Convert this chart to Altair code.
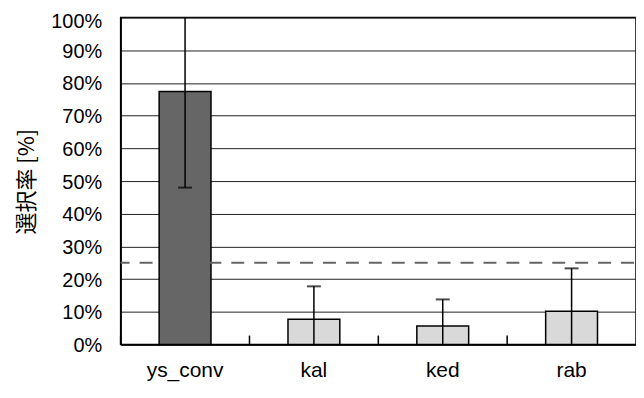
import altair as alt
import pandas as pd

categories = ["ys_conv", "kal", "ked", "rab"]
values = [77.4, 7.7, 5.7, 10.2]
errors = [29.4, 10.1, 8.1, 13.1]
colors = ["#666666", "#d9d9d9", "#d9d9d9", "#d9d9d9"]
chance_level = [25]
y_ticks = [0, 10, 20, 30, 40, 50, 60, 70, 80, 90, 100]

rows = []
for c, v, e, col in zip(categories, values, errors, colors):
    rows.append({"cat": c, "v": v, "lo": max(0, v - e), "hi": min(100, v + e),
                 "col": col, "lo_cap": v - e >= 0, "hi_cap": v + e <= 100})
df = pd.DataFrame(rows)

caps = []
for r in rows:
    if r["lo_cap"]:
        caps.append({"cat": r["cat"], "y": r["lo"]})
    if r["hi_cap"]:
        caps.append({"cat": r["cat"], "y": r["hi"]})
cap_df = pd.DataFrame(caps)

FONT = "Liberation Sans"
xscale = alt.Scale(domain=categories, paddingInner=0, paddingOuter=0)
yscale = alt.Scale(domain=[0, 100], nice=False)

xaxis = alt.Axis(title=None, labelAngle=0, ticks=False, labelPadding=15,
                 labelFontSize=21, labelFont=FONT, labelColor="#000",
                 domainColor="#000", domainWidth=1.5, grid=False)
yaxis = alt.Axis(title="選択率 [%]", values=y_ticks, ticks=False,
                 labelExpr="datum.value + '%'", labelPadding=19,
                 labelOffset={"condition": {"test": "datum.value == 100", "value": 4}, "value": 1},
                 labelFontSize=20, labelFont=FONT, labelColor="#000",
                 titleFont="Noto Sans CJK JP", titleFontSize=22,
                 titleFontWeight="normal", titleColor="#000", titlePadding=12,
                 domainColor="#000", domainWidth=1.5,
                 grid=True, gridColor="#222222", gridWidth=1)

def X(**kw):
    return alt.X("cat:N", scale=xscale, sort=categories, axis=xaxis, title=None, **kw)

def Y(field):
    return alt.Y(field, scale=yscale, axis=yaxis, title="選択率 [%]")

bars = alt.Chart(df).mark_bar(size=52, stroke="#000", strokeWidth=1.5).encode(
    x=X(), y=Y("v:Q"), color=alt.Color("col:N", scale=None))

err = alt.Chart(df).mark_rule(color="#000", strokeWidth=1.5).encode(
    x=X(), y=Y("lo:Q"), y2="hi:Q")

capm = alt.Chart(cap_df).mark_tick(color="#000", size=14, thickness=2, orient="horizontal").encode(
    x=X(), y=Y("y:Q"))

xticks = alt.Chart(pd.DataFrame({"cat": categories})).mark_rule(color="#000", strokeWidth=1.5).encode(
    x=X(bandPosition=0), y=alt.value(328), y2=alt.value(319))

dash = alt.Chart(pd.DataFrame({"y": chance_level})).mark_rule(
    color="#666666", strokeWidth=2, strokeDash=[13, 10], strokeDashOffset=-2).encode(y=Y("y:Q"))

chart = alt.layer(bars, dash, err, capm, xticks).properties(
    width=517, height=328,
    autosize=alt.AutoSizeParams(type="none"),
    padding={"left": 113, "top": 9, "right": 0, "bottom": 50},
    background="white",
).configure_view(stroke="#000", strokeWidth=1.5)

chart.save("out.html", embed_options={"renderer": "svg", "actions": False})
